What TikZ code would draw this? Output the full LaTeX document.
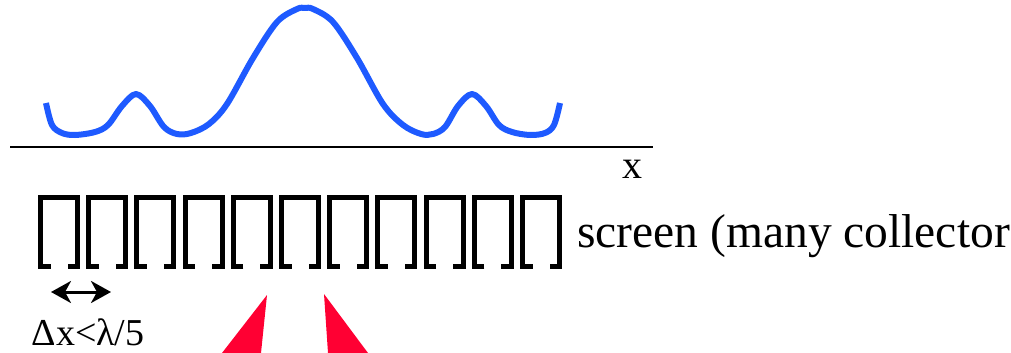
\documentclass[tikz,border=0pt]{standalone}
\usepackage{fontspec}
\setmainfont{Liberation Serif}
\newfontfamily\timesfont{Liberation Serif}
\usetikzlibrary{arrows.meta}
\definecolor{curveblue}{RGB}{30,90,255}
\definecolor{beamred}{RGB}{255,0,51}
\tikzset{
  collector/.style={line width=5pt, line cap=butt, line join=miter},
  intensity/.style={line width=6pt, curveblue, line cap=butt, line join=round},
  axisline/.style={line width=2.5pt},
  beam/.style={fill=beamred},
  dxarrow/.style={line width=3pt, {Stealth[length=20pt,width=22pt,inset=6pt]}-{Stealth[length=20pt,width=22pt,inset=6pt]}}
}
\begin{document}
\begin{tikzpicture}[x=1pt,y=-1pt]
\useasboundingbox (0,0) rectangle (1011,353);
% intensity curve
\draw[intensity] plot[smooth, tension=0.55] coordinates {
 (46,103) (52,125) (62,133) (75,135) (95,132) (108,125) (122,106) (136,94) (150,106) (164,127) (177,134) (191,133) (209,124) (227,104) (253,58) (277,22) (297,9) (305,8)
 (313,9) (333,22) (357,58) (383,104) (403,125) (421,134) (433,134) (445,127) (458,106) (472,94) (486,106) (499,125) (512,132) (530,135) (545,133) (554,125) (560,103)};
% axis
\coordinate (axL) at (10,147);
\coordinate (axR) at (653,147);
\draw[axisline] (axL) -- (axR);
\node[font=\timesfont\fontsize{40}{42}\selectfont, anchor=base, inner sep=0pt] (xlab) at (632,178) {x};
% collectors
\foreach \i in {0,...,10} {
  \pgfmathsetmacro\xx{40.5+48.2*\i}
  \draw[collector] (\xx+10,266.5) -- (\xx,266.5) -- (\xx,197.5) -- (\xx+37,197.5) -- (\xx+37,266.5) -- (\xx+27,266.5);
}
\node[font=\timesfont\fontsize{47.5}{50}\selectfont, anchor=base west, inner sep=0pt] (screen) at (577,247) {screen (many collector};
% spacing arrow
\coordinate (dxL) at (51,292);
\coordinate (dxR) at (111,292);
\draw[dxarrow] (dxL) -- (dxR);
\node[font=\timesfont\fontsize{38}{40}\selectfont, anchor=base, inner sep=0pt] (dxlab) at (88,345) {Δx<λ/5};
% beams
\fill[beam] (222,353) -- (267,295) -- (261,353) -- cycle;
\fill[beam] (324,294) -- (368,353) -- (328,353) -- cycle;
\end{tikzpicture}
\end{document}
